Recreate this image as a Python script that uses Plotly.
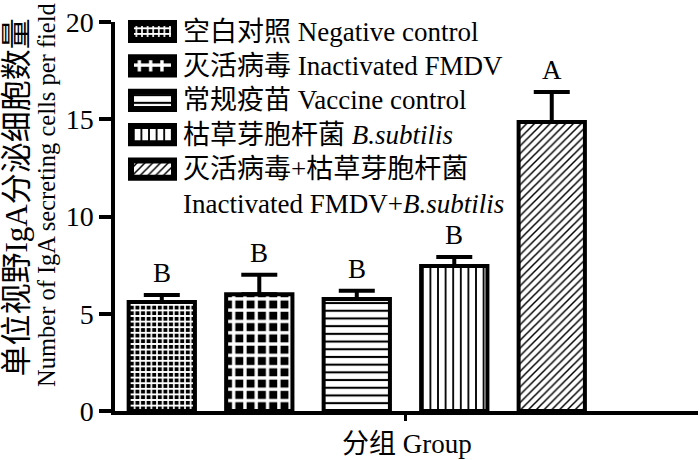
import plotly.graph_objects as go

# ---------------- data ----------------
groups_cn = ["空白对照", "灭活病毒", "常规疫苗", "枯草芽胞杆菌", "灭活病毒+枯草芽胞杆菌"]
groups_en = ["Negative control", "Inactivated FMDV", "Vaccine control",
             "<i>B.subtilis</i>", "Inactivated FMDV+<i>B.subtilis</i>"]
means = [5.6, 6.0, 5.76, 7.45, 14.86]
errors = [0.37, 1.0, 0.42, 0.47, 1.54]
letters = ["B", "B", "B", "B", "A"]
y_ticks = [0, 5, 10, 15, 20]
x_title = "分组 Group"
y_title_cn = "单位视野IgA分泌细胞数量"
y_title_en = "Number of IgA secreting cells per field"

# ---------------- style ----------------
FONT = "Liberation Serif, 'Times New Roman', 'Noto Sans CJK SC', serif"
pat_shape = ["+", "+", "-", "|", "/"]
pat_fg = ["white", "white", "black", "black", "black"]
pat_bg = ["black", "black", "white", "white", "white"]
pat_size = [5.6, 11.3, 7.7, 7.6, 5.5]
pat_solid = [0.5, 0.5, 0.27, 0.24, 0.27]
wrap_label = [False, False, False, False, True]

pattern = dict(shape=pat_shape, fgcolor=pat_fg, bgcolor=pat_bg,
               size=pat_size, solidity=pat_solid, fillmode="replace")

positions = list(range(len(means)))

fig = go.Figure()

fig.add_trace(go.Bar(
    x=positions, y=means, width=0.68,
    marker=dict(color="white", line=dict(color="black", width=4), pattern=pattern),
    error_y=dict(type="data", array=errors, arrayminus=[0] * len(errors),
                 symmetric=False, color="black", thickness=4, width=18),
    xaxis="x", yaxis="y", hoverinfo="skip",
))

# legend swatches on a helper subplot
fig.add_trace(go.Bar(
    y=groups_cn, x=[1] * len(groups_cn), base=0, orientation="h", width=0.5,
    marker=dict(color="white", line=dict(color="black", width=6), pattern=pattern),
    xaxis="x2", yaxis="y2", hoverinfo="skip",
))

annotations = []
for i, (m, e, t) in enumerate(zip(means, errors, letters)):
    annotations.append(dict(x=i, y=m + e, xref="x", yref="y", text=t, showarrow=False,
                            yanchor="bottom", yshift=5, font=dict(size=27, color="black", family=FONT)))

for cn, en, wrap in zip(groups_cn, groups_en, wrap_label):
    if wrap:
        annotations.append(dict(x=1, y=cn, xref="x2", yref="y2", text=cn, showarrow=False,
                                xanchor="left", yanchor="middle", xshift=7,
                                font=dict(size=27, color="black", family=FONT)))
        annotations.append(dict(x=1, y=cn, xref="x2", yref="y2", text=en, showarrow=False,
                                xanchor="left", yanchor="middle", xshift=7, yshift=-34.4,
                                font=dict(size=27, color="black", family=FONT)))
    else:
        annotations.append(dict(x=1, y=cn, xref="x2", yref="y2", text=cn + " " + en, showarrow=False,
                                xanchor="left", yanchor="middle", xshift=7,
                                font=dict(size=27, color="black", family=FONT)))

annotations.append(dict(x=0.5, y=0, xref="paper", yref="paper", text=x_title, showarrow=False,
                        yanchor="top", yshift=-16, font=dict(size=27, color="black", family=FONT)))
annotations.append(dict(x=(16.5 - 115) / 583, y=0.5285, xref="paper", yref="paper", text=y_title_cn,
                        showarrow=False, textangle=-90, xanchor="center", yanchor="middle",
                        font=dict(size=31, color="black", family=FONT)))
annotations.append(dict(x=(47 - 115) / 583, y=0.536, xref="paper", yref="paper", text=y_title_en,
                        showarrow=False, textangle=-90, xanchor="center", yanchor="middle",
                        font=dict(size=24.5, color="black", family=FONT)))

fig.update_layout(
    width=700, height=460,
    margin=dict(l=115, r=2, t=8, b=49, autoexpand=False),
    paper_bgcolor="white", plot_bgcolor="white",
    showlegend=False,
    font=dict(family=FONT, color="black"),
    xaxis=dict(range=[-0.48, 5.5], showline=True, linewidth=3.5, linecolor="black",
               ticks="outside", tickvals=[2.5], ticktext=[""], ticklen=6, tickwidth=3,
               tickcolor="black", showgrid=False, zeroline=False, fixedrange=True,
               automargin=False),
    yaxis=dict(domain=[0, 389 / 403], range=[0, 20], tickvals=y_ticks, showline=True,
               linewidth=3.5, linecolor="black", ticks="outside", ticklen=12, tickwidth=3.5,
               tickcolor="black", tickfont=dict(size=28, family=FONT, color="black"),
               showgrid=False, zeroline=False, fixedrange=True, automargin=False),
    xaxis2=dict(domain=[0.0127, 0.1160], range=[-0.2, 1.2], anchor="y2", visible=False,
                fixedrange=True, automargin=False),
    yaxis2=dict(domain=[(411 - 186.3) / 403, (411 - 14.3) / 403], anchor="x2", visible=False,
                type="category", categoryorder="array", categoryarray=groups_cn,
                autorange="reversed", fixedrange=True, automargin=False),
    annotations=annotations,
)

fig.write_html(
    "out.html",
    config={"displayModeBar": False},
    post_script="document.body.style.margin='0';document.body.style.overflow='hidden';",
)
